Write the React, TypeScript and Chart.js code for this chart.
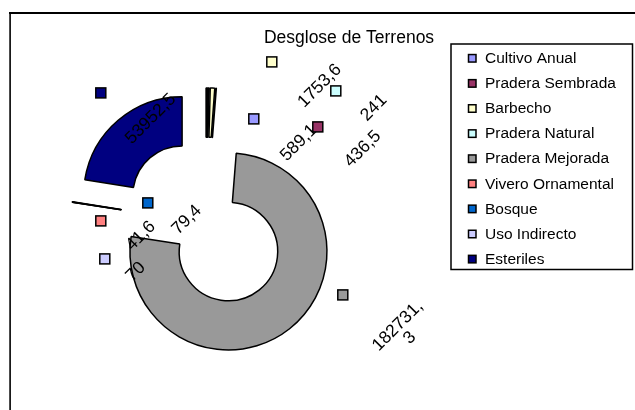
import React, { useEffect, useRef } from 'react';
import { Chart, registerables } from 'chart.js';

Chart.register(...registerables);

// ---- data ----
const chartTitle = 'Desglose de Terrenos';
const categories = [
  'Cultivo Anual',
  'Pradera Sembrada',
  'Barbecho',
  'Pradera Natural',
  'Pradera Mejorada',
  'Vivero Ornamental',
  'Bosque',
  'Uso Indirecto',
  'Esteriles',
];
const areaValues = [589.1, 436.5, 1753.6, 241, 182731.3, 41.6, 79.4, 70, 53952.5];
const sliceColors = [
  '#9999FF',
  '#993366',
  '#FFFFCC',
  '#CCFFFF',
  '#999999',
  '#FF8080',
  '#0066CC',
  '#CCCCFF',
  '#000080',
];

// ---- layout (annotation placement, relative to the doughnut centre) ----
const EXPLODE = 36.5;
const LABEL_OFFSETS: [number, number][] = [
  [93, -80], [157, -74], [114, -137], [168, -115], [198, 109],
  [-65, 13], [-19, -3], [-70, 49], [-55, -104],
];
const KEY_OFFSETS: [number, number][] = [
  [48, -104], [112, -96], [66, -161], [130, -132], [137, 72],
  [-105, -2], [-58, -20], [-101, 36], [-105, -130],
];
const FONT = "'Liberation Sans', Arial, sans-serif";

function formatValue(v: number) {
  return String(v).replace('.', ',');
}

const explodePlugin = {
  id: 'explodeArcs',
  beforeDatasetsDraw(chart: any) {
    const ctx = chart.ctx;
    const meta = chart.getDatasetMeta(0);
    meta.data.forEach((arc: any) => {
      const mid = (arc.startAngle + arc.endAngle) / 2;
      ctx.save();
      ctx.translate(Math.cos(mid) * EXPLODE, Math.sin(mid) * EXPLODE);
      arc.draw(ctx);
      ctx.restore();
    });
    return false;
  },
};

const decorPlugin = {
  id: 'decor',
  afterDraw(chart: any) {
    const ctx: CanvasRenderingContext2D = chart.ctx;
    const meta = chart.getDatasetMeta(0);
    const ds = chart.data.datasets[0];
    const labels: string[] = chart.data.labels;
    ctx.save();

    // frame (chart area extends beyond the view)
    ctx.fillStyle = '#000';
    ctx.fillRect(9, 12, 626, 2);
    ctx.fillRect(9.3, 12, 1.6, 398);

    // title
    ctx.font = `17.5px ${FONT}`;
    ctx.textAlign = 'center';
    ctx.textBaseline = 'alphabetic';
    ctx.fillText(chartTitle, 349, 43);

    // data labels + keys
    meta.data.forEach((arc: any, i: number) => {
      const cx = arc.x;
      const cy = arc.y;
      const [kx, ky] = KEY_OFFSETS[i];
      ctx.fillStyle = ds.backgroundColor[i];
      ctx.fillRect(cx + kx - 5, cy + ky - 5, 10, 10);
      ctx.strokeStyle = '#000';
      ctx.lineWidth = 1.5;
      ctx.strokeRect(cx + kx - 5, cy + ky - 5, 10, 10);

      ctx.font = `17.5px ${FONT}`;
      const text = formatValue(ds.data[i]);
      let lines = [text];
      if (ctx.measureText(text).width > 70 && text.includes(',')) {
        const k = text.indexOf(',') + 1;
        lines = [text.slice(0, k), text.slice(k)];
      }
      const [lx, ly] = LABEL_OFFSETS[i];
      ctx.save();
      ctx.translate(cx + lx, cy + ly);
      ctx.rotate(-Math.PI / 4);
      ctx.fillStyle = '#000';
      ctx.textAlign = 'center';
      ctx.textBaseline = 'middle';
      lines.forEach((ln, j) => {
        ctx.fillText(ln, 0, (j - (lines.length - 1) / 2) * 17);
      });
      ctx.restore();
    });

    // legend
    ctx.strokeStyle = '#000';
    ctx.lineWidth = 1.5;
    ctx.strokeRect(451, 44, 181.5, 225.5);
    ctx.font = `15.5px ${FONT}`;
    ctx.textAlign = 'left';
    ctx.textBaseline = 'middle';
    labels.forEach((lab, i) => {
      const y = 58.3 + i * 25.1;
      ctx.fillStyle = ds.backgroundColor[i];
      ctx.fillRect(468.5, y - 3.75, 7.5, 7.5);
      ctx.lineWidth = 1.5;
      ctx.strokeRect(468.5, y - 3.75, 7.5, 7.5);
      ctx.fillStyle = '#000';
      ctx.fillText(lab, 485, y + 0.5);
    });

    ctx.restore();
  },
};

export default function App() {
  const ref = useRef<HTMLCanvasElement>(null);
  useEffect(() => {
    const chart = new Chart(ref.current as HTMLCanvasElement, {
      type: 'doughnut',
      data: {
        labels: categories,
        datasets: [
          {
            data: areaValues,
            backgroundColor: sliceColors,
            borderColor: '#000',
            borderWidth: 1.5,
          },
        ],
      },
      options: {
        responsive: false,
        animation: false,
        events: [],
        radius: 98.5,
        cutout: '50%',
        layout: { padding: { left: 0, top: 35.8, right: 223.4, bottom: 0 } },
        plugins: {
          legend: { display: false },
          tooltip: { enabled: false },
          title: { display: false },
        },
      } as any,
      plugins: [explodePlugin, decorPlugin],
    });
    return () => chart.destroy();
  }, []);
  return (
    <div style={{ position: 'fixed', left: 0, top: 0, width: 635, height: 410, background: '#fff' }}>
      <canvas ref={ref} width={635} height={410} style={{ display: 'block' }} />
    </div>
  );
}
